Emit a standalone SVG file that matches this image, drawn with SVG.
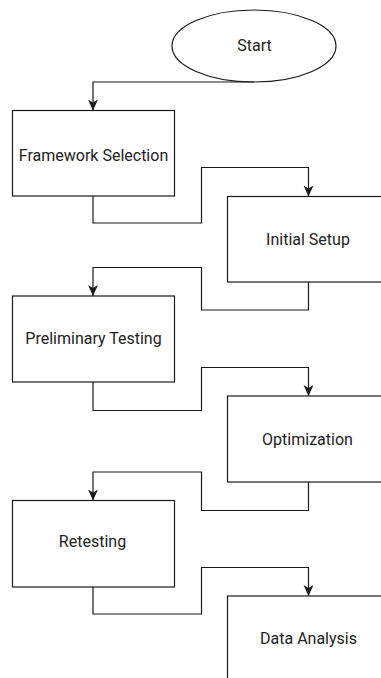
<svg xmlns="http://www.w3.org/2000/svg" width="381" height="678" viewBox="0 0 381 678">
<style>
.shape{fill:#ffffff;stroke:#1a1a1a;stroke-width:1.2}
.lbl{font-family:Roboto,"Liberation Sans",Arial,sans-serif;font-size:16px;fill:#222222;text-anchor:middle}
.edge{fill:none;stroke:#1a1a1a;stroke-width:1.2;marker-end:url(#arrow)}
</style>
<defs>
<marker id="arrow" markerUnits="userSpaceOnUse" markerWidth="12" markerHeight="11" refX="11" refY="5.5" orient="auto" viewBox="0 0 12 11">
<path d="M0,0.5 L11,5.5 L0,10.5 L3,5.5 Z" fill="#1a1a1a"/>
</marker>
</defs>
<rect x="0" y="0" width="381" height="678" fill="#ffffff"/>
<g id="start">
<ellipse class="shape" cx="254" cy="46" rx="82" ry="36"/>
<text class="lbl" x="254.5" y="50.5">Start</text>
</g>
<g id="framework-selection">
<rect class="shape" x="12.5" y="110.5" width="162" height="85.5"/>
<text class="lbl" x="93.5" y="161">Framework Selection</text>
</g>
<g id="initial-setup">
<rect class="shape" x="227.5" y="196.5" width="162" height="85.5"/>
<text class="lbl" x="308" y="244.5">Initial Setup</text>
</g>
<g id="preliminary-testing">
<rect class="shape" x="12.5" y="296" width="162" height="86"/>
<text class="lbl" x="93.5" y="343.5">Preliminary Testing</text>
</g>
<g id="optimization">
<rect class="shape" x="227.5" y="396" width="162" height="86"/>
<text class="lbl" x="307.5" y="445">Optimization</text>
</g>
<g id="retesting">
<rect class="shape" x="12.5" y="500.5" width="162" height="86.5"/>
<text class="lbl" x="92.5" y="546.5">Retesting</text>
</g>
<g id="data-analysis">
<rect class="shape" x="227.5" y="596" width="162" height="86"/>
<text class="lbl" x="308.5" y="643.5">Data Analysis</text>
</g>
<g id="connectors">
<path class="edge" d="M254 82 H93 V110.5"/>
<path class="edge" d="M93 196 V223 H201.5 V167.5 H308.5 V196.5"/>
<path class="edge" d="M308.5 282 V310 H201.5 V267.5 H93 V296"/>
<path class="edge" d="M93 382 V410.5 H201.5 V367.5 H308.5 V396"/>
<path class="edge" d="M308.5 482 V510.5 H201.5 V472 H93 V500.5"/>
<path class="edge" d="M93 587 V614 H201.5 V567.5 H308.5 V596"/>
</g>
</svg>
